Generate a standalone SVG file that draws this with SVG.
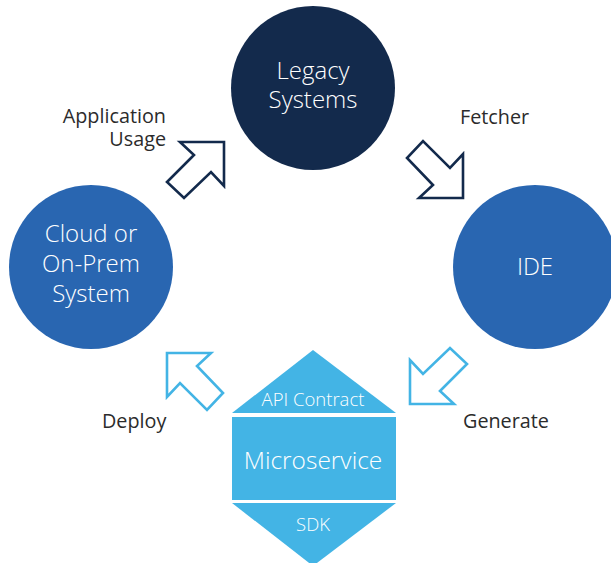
<svg xmlns="http://www.w3.org/2000/svg" width="611" height="563" viewBox="0 0 611 563">
<style>
.ct{font-family:"Open Sans","DejaVu Sans",sans-serif;font-weight:300;fill:#fff;text-anchor:middle}
.lb{font-family:"Open Sans","DejaVu Sans",sans-serif;font-size:19.8px;fill:#2b2b2b}
.arw{fill:#fff;stroke-width:2.6;stroke-linejoin:miter}
.dk{stroke:#132a4c}
.lt{stroke:#43b4e5}
</style>
<defs>
<polygon id="arrow" points="0,0 -44,0 -30,13 -57,40 -40,56 -13,30 0,44"/>
</defs>
<rect width="611" height="563" fill="#fff"/>
<g id="connectors">
<use href="#arrow" class="arw dk" transform="translate(224,142)"/>
<use href="#arrow" class="arw dk" transform="translate(463,198) rotate(90)"/>
<use href="#arrow" class="arw lt" transform="translate(410,404) rotate(180)"/>
<use href="#arrow" class="arw lt" transform="translate(167,353) rotate(-90)"/>
</g>
<g id="legacy">
<circle cx="313" cy="88" r="82" fill="#132a4c"/>
<text class="ct" x="313" y="79" font-size="24">Legacy</text>
<text class="ct" x="313" y="108" font-size="24">Systems</text>
</g>
<g id="ide">
<circle cx="535" cy="267" r="82" fill="#2966b1"/>
<text class="ct" x="535" y="275" font-size="24">IDE</text>
</g>
<g id="cloud">
<circle cx="91" cy="267" r="82" fill="#2966b1"/>
<text class="ct" x="91" y="242" font-size="24">Cloud or</text>
<text class="ct" x="91" y="272" font-size="24">On-Prem</text>
<text class="ct" x="91" y="302" font-size="24">System</text>
</g>
<g id="microservice">
<polygon points="313,350 396,413 232,413" fill="#43b4e5"/>
<rect x="232" y="417" width="164" height="83" fill="#43b4e5"/>
<polygon points="232,503 396,503 313,566" fill="#43b4e5"/>
<text class="ct" x="313" y="406" font-size="18.5">API Contract</text>
<text class="ct" x="313" y="469" font-size="24.5">Microservice</text>
<text class="ct" x="313" y="531" font-size="18.5">SDK</text>
</g>
<g id="labels">
<text class="lb" x="166" y="123" text-anchor="end">Application</text>
<text class="lb" x="166" y="146" text-anchor="end">Usage</text>
<text class="lb" x="460" y="124">Fetcher</text>
<text class="lb" x="102" y="428">Deploy</text>
<text class="lb" x="463" y="428">Generate</text>
</g>
</svg>
